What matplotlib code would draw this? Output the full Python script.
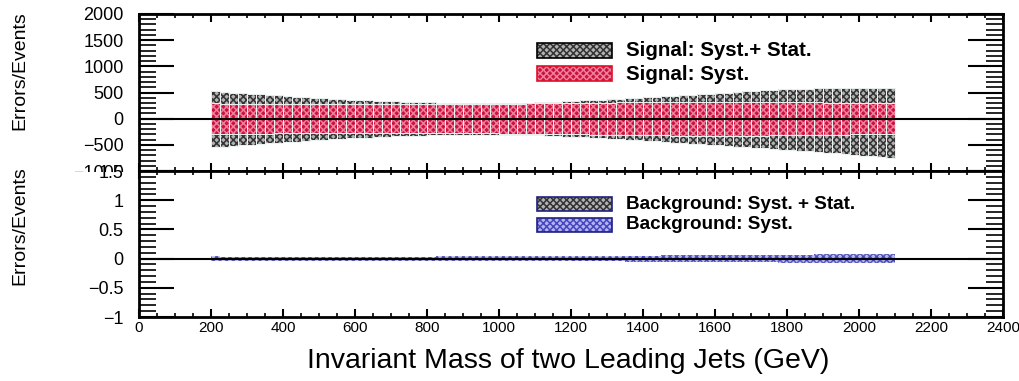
import numpy as np
import matplotlib.pyplot as plt
from matplotlib.patches import Rectangle
from matplotlib.ticker import MultipleLocator

plt.rcParams['font.family'] = ['Liberation Sans', 'DejaVu Sans']
plt.rcParams['hatch.linewidth'] = 1.1

# 25 GeV bins from 200 to 2100 GeV
mass_edges = np.arange(200, 2101, 25)
mass_centers = 0.5 * (mass_edges[:-1] + mass_edges[1:])

# signal: total (syst + stat) band, upper and lower edge
sig_tot_up = [525, 515, 500, 490, 478, 466, 455, 443, 432, 421, 410, 400, 390, 381, 372, 364,
              356, 349, 342, 336, 330, 325, 320, 316, 312, 308, 305, 302, 300, 298, 297, 297,
              298, 300, 303, 307, 312, 318, 325, 332, 340, 348, 357, 366, 375, 384, 393, 402,
              411, 420, 430, 440, 450, 460, 470, 480, 490, 500, 510, 520, 530, 540, 550, 558,
              565, 570, 574, 577, 579, 580, 580, 580, 580, 580, 580, 580]
sig_tot_dn = [545, 535, 522, 510, 498, 486, 474, 462, 450, 438, 427, 416, 405, 395, 386, 377,
              368, 360, 352, 345, 338, 332, 327, 322, 318, 314, 311, 309, 307, 306, 306, 306,
              307, 309, 312, 316, 321, 327, 334, 341, 349, 357, 366, 375, 385, 395, 405, 415,
              425, 435, 446, 457, 468, 479, 490, 501, 512, 523, 534, 545, 556, 567, 578, 590,
              602, 614, 626, 638, 650, 663, 676, 690, 704, 719, 735, 752]
# signal: syst only (symmetric)
sig_syst = [290, 289, 288, 287, 286, 285, 284, 283, 282, 281, 280, 279, 278, 277, 277, 276,
            276, 276, 276, 276, 276, 276, 276, 277, 277, 278, 278, 279, 280, 281, 282, 283,
            284, 286, 288, 290, 292, 294, 296, 298, 300, 302, 304, 306, 308, 310, 312, 314,
            316, 318, 320, 322, 323, 324, 325, 326, 326, 326, 326, 325, 324, 322, 320, 318,
            316, 314, 312, 310, 308, 306, 304, 302, 300, 298, 296, 295]

# background: total and syst (symmetric)
bkg_tot = [0.036, 0.035, 0.035, 0.034, 0.034, 0.034, 0.033, 0.033, 0.033, 0.033, 0.033, 0.033, 0.033, 0.033, 0.033, 0.033,
           0.033, 0.033, 0.034, 0.034, 0.034, 0.034, 0.035, 0.035, 0.035, 0.036, 0.036, 0.036, 0.037, 0.037, 0.038, 0.038,
           0.039, 0.039, 0.040, 0.041, 0.041, 0.042, 0.043, 0.044, 0.045, 0.045, 0.046, 0.047, 0.048, 0.049, 0.050, 0.051,
           0.052, 0.053, 0.054, 0.055, 0.056, 0.057, 0.058, 0.059, 0.060, 0.061, 0.062, 0.063, 0.064, 0.065, 0.066, 0.067,
           0.068, 0.069, 0.070, 0.071, 0.072, 0.072, 0.073, 0.073, 0.074, 0.074, 0.075, 0.075]
bkg_syst = [0.025, 0.024, 0.024, 0.023, 0.023, 0.023, 0.023, 0.023, 0.023, 0.023, 0.023, 0.023, 0.023, 0.023, 0.023, 0.023,
            0.023, 0.023, 0.024, 0.024, 0.024, 0.024, 0.025, 0.025, 0.025, 0.026, 0.026, 0.026, 0.027, 0.027, 0.028, 0.028,
            0.029, 0.029, 0.030, 0.030, 0.031, 0.031, 0.032, 0.032, 0.033, 0.033, 0.034, 0.034, 0.035, 0.035, 0.036, 0.036,
            0.037, 0.037, 0.038, 0.038, 0.039, 0.039, 0.040, 0.040, 0.041, 0.041, 0.042, 0.042, 0.043, 0.043, 0.044, 0.044,
            0.045, 0.045, 0.046, 0.046, 0.047, 0.047, 0.048, 0.048, 0.049, 0.049, 0.050, 0.050]

sig_tot_up = np.array(sig_tot_up)
sig_tot_dn = np.array(sig_tot_dn)
sig_syst = np.array(sig_syst)
bkg_tot = np.array(bkg_tot)
bkg_syst = np.array(bkg_syst)
bw = mass_edges[1] - mass_edges[0]

W, H = 1019, 381
fig = plt.figure(figsize=(W / 100, H / 100), dpi=100)
ax1 = fig.add_axes([139 / W, (H - 171) / H, 864 / W, 157 / H], zorder=0)
ax2 = fig.add_axes([139 / W, (H - 317) / H, 864 / W, 146 / H], zorder=1)

# white pad covering the part of the upper labels that sit under the lower pad
fig.add_artist(Rectangle((0, 0), 136 / W, (H - 172) / H, transform=fig.transFigure,
                         facecolor='white', edgecolor='none', zorder=0.5))

gray_face, gray_hatch = '#b2b2b2', '#333333'
red_face, red_hatch = '#c9123f', '#ef7e98'
blue_face, blue_hatch = '#b4b4f0', '#4646c0'
lblue_face, lblue_hatch = '#c8c8f2', '#5a5ab8'


def band(ax, up, dn, face, hatch_col, z, seps=True):
    ax.bar(mass_centers, up + dn, bottom=-dn, width=bw, facecolor=face,
           edgecolor=hatch_col, hatch='xxxxx', linewidth=0, zorder=z)
    if seps:
        ax.bar(mass_centers, up + dn, bottom=-dn, width=bw, facecolor='none',
               edgecolor='#eaf2f2', linewidth=0.7, zorder=z + 0.1)


band(ax1, sig_tot_up, sig_tot_dn, gray_face, gray_hatch, 2)
band(ax1, sig_syst, sig_syst, red_face, red_hatch, 3)
band(ax2, bkg_tot, bkg_tot, lblue_face, lblue_hatch, 2, seps=False)
band(ax2, bkg_syst, bkg_syst, blue_face, blue_hatch, 3, seps=False)

for ax, ylo, yhi, ymaj, ymin in [(ax1, -1000, 2000, 500, 100), (ax2, -1, 1.5, 0.5, 0.1)]:
    ax.set_xlim(0, 2400)
    ax.set_ylim(ylo, yhi)
    ax.axhline(0, color='black', lw=1.5, zorder=5)
    ax.xaxis.set_major_locator(MultipleLocator(200))
    ax.xaxis.set_minor_locator(MultipleLocator(50))
    ax.yaxis.set_major_locator(MultipleLocator(ymaj))
    ax.yaxis.set_minor_locator(MultipleLocator(ymin))
    for s in ax.spines.values():
        s.set_linewidth(2)
    ax.tick_params(axis='x', which='major', direction='in', length=6, width=1.5,
                   top=True, bottom=True)
    ax.tick_params(axis='x', which='minor', direction='in', length=3, width=1.2,
                   top=True, bottom=True)
    ax.tick_params(axis='y', which='major', direction='in', length=25, width=1.5,
                   left=True, right=True, labelsize=13, pad=11)
    ax.tick_params(axis='y', which='minor', direction='in', length=12, width=1.2,
                   left=True, right=True)

ax1.set_yticklabels([f'{int(v)}'.replace('-', '\u2212') for v in ax1.get_yticks()])
ax1.tick_params(axis='x', labelbottom=False)
ax2.set_yticks([-1, -0.5, 0, 0.5, 1, 1.5])
ax2.set_yticklabels(['\u22121', '\u22120.5', '0', '0.5', '1', '1.5'])
ax2.tick_params(axis='x', labelsize=11, pad=3)

fig.text(20 / W, 1 - 71 / H, 'Errors/Events', rotation=90, ha='center', va='center', fontsize=14)
fig.text(20 / W, 1 - 226 / H, 'Errors/Events', rotation=90, ha='center', va='center', fontsize=14)
fig.text(568 / W, 1 - 361 / H, 'Invariant Mass of two Leading Jets (GeV)', ha='center', va='center',
         fontsize=20.5)

# legends
legend_items = [
    (43, 15, 51, 14.8, 'Signal: Syst.+ Stat.', gray_face, gray_hatch, 'black'),
    (66, 15, 74, 14.8, 'Signal: Syst.', red_face, red_hatch, '#e0102a'),
    (197, 14, 204, 13.6, 'Background: Syst. + Stat.', gray_face, gray_hatch, '#202080'),
    (218, 14, 225, 13.6, 'Background: Syst.', blue_face, blue_hatch, '#202080'),
]
for ytop, bh, ytxt, fs, label, face, hcol, ecol in legend_items:
    fig.add_artist(Rectangle((537 / W, 1 - (ytop + bh) / H), 75 / W, bh / H, transform=fig.transFigure,
                             facecolor=face, edgecolor=hcol, hatch='xxxxx', linewidth=0, zorder=6))
    fig.add_artist(Rectangle((537 / W, 1 - (ytop + bh) / H), 75 / W, bh / H, transform=fig.transFigure,
                             facecolor='none', edgecolor=ecol, linewidth=1.2, zorder=7))
    fig.text(626 / W, 1 - ytxt / H, label, ha='left', va='center', fontsize=fs,
             fontweight='bold', zorder=7)

fig.savefig('out.png', dpi=100)
